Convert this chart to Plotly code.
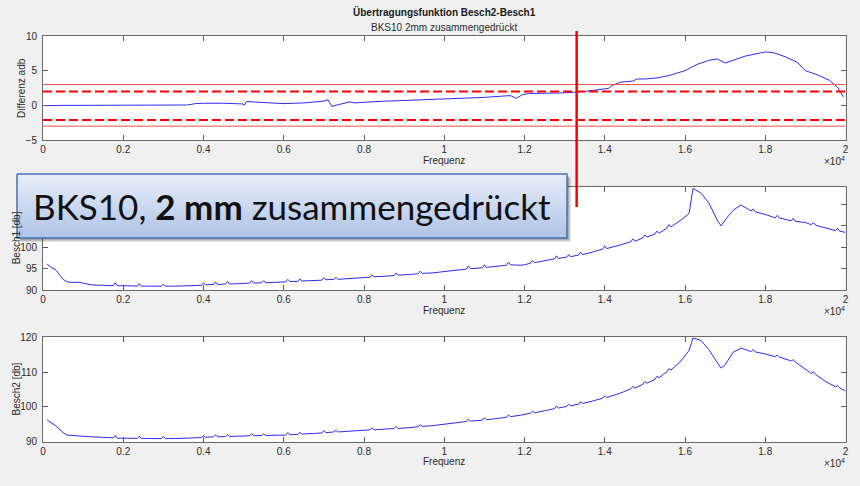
import plotly.graph_objects as go

W, H = 860, 486

# ---------------- data (frequency in units of 10^4 Hz) ----------------
diff_freq = [0.005, 0.02, 0.05, 0.1, 0.2, 0.3, 0.36, 0.38, 0.4, 0.45, 0.49, 0.498, 0.502, 0.507,
             0.55, 0.6, 0.65, 0.68, 0.70, 0.71, 0.715, 0.72, 0.74, 0.765, 0.775, 0.8, 0.85, 0.9,
             0.95, 1.0, 1.05, 1.1, 1.15, 1.165, 1.18, 1.195, 1.21, 1.25, 1.3, 1.35, 1.4, 1.41,
             1.42, 1.44, 1.46, 1.47, 1.48, 1.5, 1.53, 1.56, 1.6, 1.63, 1.66, 1.68, 1.70, 1.72,
             1.75, 1.8, 1.82, 1.85, 1.88, 1.9, 1.93, 1.96, 1.98, 1.995]
diff_db = [-0.05, 0.0, 0.0, 0.0, 0.02, 0.05, 0.05, 0.25, 0.3, 0.3, 0.22, 0.2, 0.0, 0.55,
           0.4, 0.25, 0.35, 0.5, 0.6, 0.8, 0.3, -0.15, 0.15, 0.5, 0.35, 0.45, 0.6, 0.7,
           0.8, 0.9, 1.0, 1.15, 1.35, 1.4, 1.0, 1.55, 1.7, 1.72, 1.8, 2.0, 2.3, 2.45,
           2.9, 3.35, 3.45, 3.5, 3.8, 3.8, 3.95, 4.3, 5.0, 5.9, 6.5, 6.7, 6.1, 6.5,
           7.1, 7.7, 7.6, 7.0, 6.2, 5.0, 4.4, 3.6, 2.6, 1.2]

tol_inner = [2.0, -2.1]
tol_outer = [3.0, -3.0]
marker_freq = 1.33

b1_freq = [0.01, 0.015, 0.02, 0.025, 0.03, 0.035, 0.04, 0.05, 0.06, 0.07, 0.09, 0.1, 0.12, 0.15,
           0.175, 0.18, 0.185, 0.21, 0.235, 0.24, 0.245, 0.27, 0.295, 0.30, 0.305, 0.33, 0.36,
           0.38, 0.395, 0.40, 0.405, 0.425, 0.43, 0.435, 0.455, 0.46, 0.465, 0.49, 0.515, 0.52,
           0.525, 0.545, 0.55, 0.555, 0.58, 0.605, 0.61, 0.615, 0.635, 0.64, 0.645, 0.67, 0.695,
           0.70, 0.705, 0.725, 0.73, 0.735, 0.76, 0.79, 0.815, 0.82, 0.825, 0.85, 0.875, 0.88,
           0.885, 0.91, 0.935, 0.94, 0.945, 0.97, 1.0, 1.03, 1.055, 1.06, 1.065, 1.095, 1.10,
           1.105, 1.13, 1.155, 1.16, 1.165, 1.19, 1.20, 1.215, 1.22, 1.225, 1.25, 1.275, 1.28,
           1.285, 1.305, 1.31, 1.315, 1.335, 1.34, 1.345, 1.37, 1.395, 1.40, 1.405, 1.44,
           1.465, 1.47, 1.475, 1.495, 1.50, 1.505, 1.525, 1.53, 1.535, 1.555, 1.56, 1.565,
           1.59, 1.61, 1.62, 1.64, 1.66, 1.68, 1.69, 1.70, 1.72, 1.74, 1.765, 1.77, 1.775,
           1.8, 1.825, 1.83, 1.835, 1.865, 1.87, 1.875, 1.9, 1.915, 1.92, 1.925, 1.95, 1.975,
           1.98, 1.985, 2.0]
b1_db = [96.1, 95.7, 95.3, 95.0, 94.9, 94.3, 93.6, 92.5, 91.9, 91.8, 91.8, 91.6, 91.2, 91.1,
         91.0, 91.7, 91.0, 91.0, 90.9, 91.5, 90.9, 90.9, 90.9, 91.4, 90.9, 90.9, 91.0,
         91.1, 91.1, 91.7, 91.2, 91.3, 91.9, 91.3, 91.4, 92.0, 91.4, 91.5, 91.6, 92.2,
         91.6, 91.7, 92.2, 91.7, 91.8, 91.9, 92.5, 92.0, 92.0, 92.6, 92.1, 92.2, 92.3,
         92.9, 92.4, 92.5, 93.0, 92.5, 92.7, 92.9, 93.0, 93.6, 93.1, 93.2, 93.4, 94.0,
         93.5, 93.6, 93.8, 94.4, 93.9, 94.0, 94.3, 94.7, 94.9, 95.6, 95.0, 95.2, 95.9,
         95.3, 95.6, 95.8, 96.5, 95.9, 95.8, 95.9, 96.3, 96.9, 96.4, 96.8, 97.3, 98.0,
         97.4, 97.7, 98.3, 97.8, 98.2, 98.9, 98.3, 98.9, 99.6, 100.3, 99.7, 100.6,
         101.3, 102.0, 101.4, 102.2, 102.9, 102.4, 103.1, 103.8, 103.3, 104.5, 105.3, 104.8,
         106.4, 107.9, 113.8, 112.7, 110.3, 106.4, 105.0, 106.4, 108.7, 109.9, 108.5, 109.0, 108.3,
         107.7, 106.9, 107.5, 106.9, 106.2, 106.8, 106.1, 105.8, 105.3, 105.8, 105.2, 104.5, 103.9,
         104.5, 103.8, 103.5]

b2_freq = list(b1_freq)
b2_db = [96.25, 95.8, 95.5, 95.1, 94.8, 94.3, 93.8, 92.6, 91.9, 91.8, 91.8, 91.7, 91.4, 91.25,
         91.1, 91.8, 91.0, 91.0, 90.95, 91.6, 90.95, 90.9, 90.9, 91.5, 90.9, 90.9, 91.1,
         91.2, 91.2, 91.8, 91.3, 91.4, 92.0, 91.4, 91.5, 92.1, 91.5, 91.6, 91.7, 92.3,
         91.7, 91.8, 92.3, 91.8, 91.9, 91.9, 92.6, 92.0, 92.1, 92.7, 92.2, 92.4, 92.5,
         93.2, 92.6, 92.8, 93.3, 92.8, 93.0, 93.2, 93.4, 94.0, 93.4, 93.6, 93.8, 94.4,
         93.8, 94.0, 94.3, 94.9, 94.4, 94.6, 95.0, 95.4, 95.8, 96.5, 95.9, 96.2, 96.9,
         96.3, 96.6, 97.0, 97.7, 97.2, 97.6, 97.8, 98.2, 98.8, 98.3, 98.9, 99.5, 100.2,
         99.7, 100.1, 100.8, 100.3, 100.8, 101.5, 101.0, 101.7, 102.5, 103.2, 102.7, 104.0,
         105.2, 105.9, 105.4, 106.5, 107.3, 106.8, 107.9, 108.8, 108.4, 110.1, 111.0, 110.6,
         113.2, 116.2, 119.8, 119.1, 116.4, 112.8, 111.15, 112.1, 115.7, 116.9, 115.9, 116.5, 115.8,
         115.2, 114.4, 114.9, 114.3, 113.2, 113.6, 112.9, 110.8, 109.6, 110.1, 109.4, 107.3, 105.8,
         106.2, 105.5, 104.6]

x_ticks = [0, 0.2, 0.4, 0.6, 0.8, 1.0, 1.2, 1.4, 1.6, 1.8, 2.0]
x_tick_labels = ["0", "0.2", "0.4", "0.6", "0.8", "1", "1.2", "1.4", "1.6", "1.8", "2"]
y1_ticks = [-5, 0, 5, 10]
y2_ticks = [90, 95, 100, 105, 110]
y3_ticks = [90, 100, 110, 120]

title_text = "Übertragungsfunktion Besch2-Besch1"
subtitle_text = "BKS10 2mm zusammengedrückt"
xlabel_text = "Frequenz"
ylabels = ["Differenz adb", "Besch1 [db]", "Besch2 [db]"]
callout_text = "BKS10, <b>2 mm</b> zusammengedrückt"

# ---------------- layout helpers ----------------
def px(x):
    return x / W

def py(y):
    return 1 - y / H

XL, XR = 43, 845.5
panels = [(36, 140), (186.7, 290), (337.3, 441.7)]
ylabel_x = [21, 16, 16]
yranges = [[-5, 10], [90, 114.2], [90, 120]]
yticks = [y1_ticks, y2_ticks, y3_ticks]

FONT = "Liberation Sans, Arial, sans-serif"
TXT = "#2b2b2b"
LINE_BLUE = "#2b2bf0"

fig = go.Figure()

series = [(diff_freq, diff_db), (b1_freq, b1_db), (b2_freq, b2_db)]
for i, (fx, fy) in enumerate(series):
    sfx = "" if i == 0 else str(i + 1)
    fig.add_trace(go.Scatter(x=fx, y=fy, mode="lines", line=dict(color=LINE_BLUE, width=1),
                             xaxis="x" + sfx, yaxis="y" + sfx, showlegend=False, hoverinfo="skip"))

axis_common = dict(showgrid=False, zeroline=False, showline=True, linecolor="#6a6a6a", linewidth=1,
                   ticks="inside", ticklen=5, tickcolor="#5a5a5a", mirror="ticks", automargin=False,
                   tickfont=dict(family=FONT, size=10, color=TXT))

for i, (top, bot) in enumerate(panels):
    sfx = "" if i == 0 else str(i + 1)
    fig.update_layout(**{
        "xaxis" + sfx: dict(axis_common, domain=[px(XL), px(XR)], range=[0, 2],
                            tickvals=x_ticks, ticktext=x_tick_labels,
                            anchor="y" + sfx, ticklabelstandoff=0),
        "yaxis" + sfx: dict(axis_common, domain=[py(bot), py(top)], range=yranges[i],
                            tickvals=yticks[i], anchor="x" + sfx, ticklabelstandoff=3),
    })

# overlay axis for the slide callout
fig.update_layout(
    xaxis4=dict(domain=[0, 1], range=[0, W], visible=False, fixedrange=True, automargin=False),
    yaxis4=dict(domain=[0, 1], range=[H, 0], visible=False, fixedrange=True, automargin=False),
)

# shadow of callout
for off, alpha in [(4, 0.10), (3, 0.12), (2, 0.15)]:
    fig.add_trace(go.Scatter(x=[17 + off, 567 + off, 567 + off, 17 + off, 17 + off],
                             y=[174 + off, 174 + off, 238 + off, 238 + off, 174 + off],
                             mode="lines", fill="toself", line=dict(width=0),
                             fillcolor=f"rgba(0,0,0,{alpha})", xaxis="x4", yaxis="y4",
                             showlegend=False, hoverinfo="skip"))
fig.add_trace(go.Scatter(x=[17, 567, 567, 17, 17], y=[174, 174, 238, 238, 174],
                         mode="lines", fill="toself",
                         line=dict(color="#4473b0", width=1.5),
                         fillgradient=dict(type="vertical", start=174, stop=238,
                                           colorscale=[[0, "#e8eef9"], [1, "#aec3e6"]]),
                         xaxis="x4", yaxis="y4", showlegend=False, hoverinfo="skip"))

shapes = []
for v in tol_outer:
    shapes.append(dict(type="line", xref="x", yref="y", x0=0, x1=2, y0=v, y1=v,
                       line=dict(color="#f05050", width=1)))
for v in tol_inner:
    shapes.append(dict(type="line", xref="x", yref="y", x0=0, x1=2, y0=v, y1=v,
                       line=dict(color="#ff0000", width=2, dash="9px,4px")))
shapes.append(dict(type="line", xref="x", yref="paper", x0=marker_freq, x1=marker_freq,
                   y0=py(207), y1=py(31), line=dict(color="#ff0000", width=2.5), layer="above"))
for i, (top, bot) in enumerate(panels):
    shapes.append(dict(type="rect", xref="paper", yref="paper", x0=px(XL), x1=px(XR),
                       y0=py(bot), y1=py(top), fillcolor="#ffffff", line=dict(width=0),
                       layer="below"))
fig.update_layout(shapes=shapes)

def note(text, x, y, size=10, xanchor="center", angle=0, color=TXT):
    return dict(text=text, x=px(x), y=py(y), xref="paper", yref="paper", showarrow=False,
                xanchor=xanchor, yanchor="middle", textangle=angle,
                font=dict(family=FONT, size=size, color=color))

ann = [note(f"<b>{title_text}</b>", 444, 12, color="#1a1a1a"),
       note(subtitle_text, 444, 28)]
for i, (top, bot) in enumerate(panels):
    ann.append(note(xlabel_text, 444, bot + 20))
    ann.append(note("×10<sup>4</sup>", 847, bot + 21, xanchor="right"))
    ann.append(note(ylabels[i], ylabel_x[i], (top + bot) / 2, angle=-90))
ann.append(dict(text=callout_text, x=292, y=206, xref="x4", yref="y4", showarrow=False,
                xanchor="center", yanchor="middle",
                font=dict(family="Lato, Noto Sans, sans-serif", size=35, color="#111111")))
fig.update_layout(annotations=ann)

fig.update_layout(width=W, height=H, margin=dict(l=0, r=0, t=0, b=0, autoexpand=False),
                  paper_bgcolor="#f0f0f0", plot_bgcolor="rgba(0,0,0,0)")

fig.write_html("out.html", config={"displayModeBar": False},
               post_script="document.body.style.margin='0';")
